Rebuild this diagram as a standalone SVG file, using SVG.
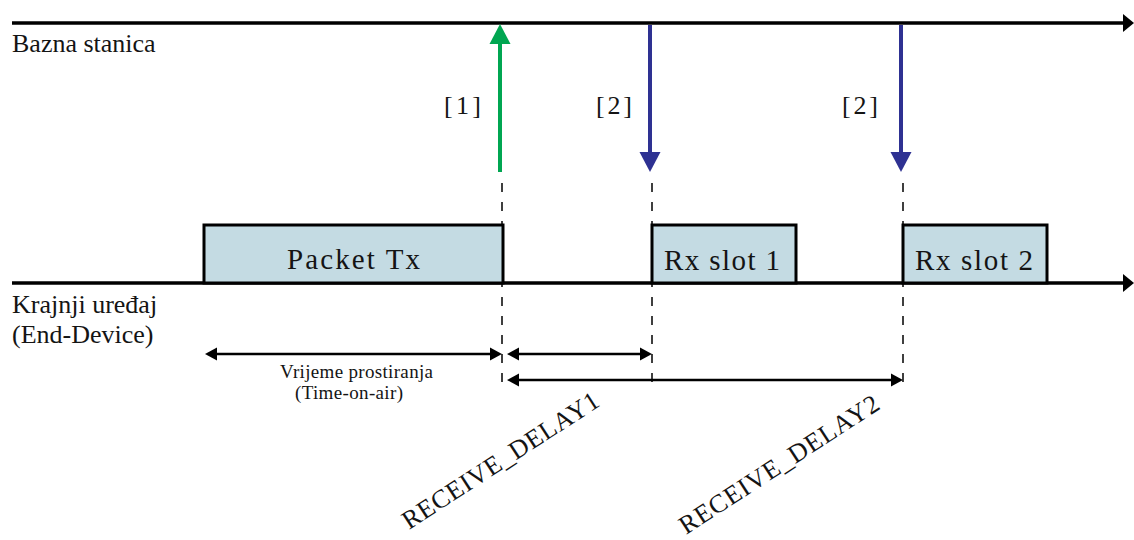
<svg xmlns="http://www.w3.org/2000/svg" width="1134" height="540" viewBox="0 0 1134 540">
<style>
text{font-family:'Liberation Serif','Tinos','Times New Roman','Noto Serif','DejaVu Serif',serif;fill:#141414}
.axis{stroke:#000;stroke-width:3.5;fill:none}
.box{fill:#C4DBE3;stroke:#000;stroke-width:3}
.dash{stroke:#000;stroke-width:1.5;stroke-dasharray:9 10;fill:none}
.meas{stroke:#000;stroke-width:2.5;fill:none}
.lbl{font-size:26px}
.box-t{font-size:29px}
.br{font-size:26px}
.small{font-size:19px}
.rot{font-size:26px}
</style>
<defs>
<marker id="ax" markerUnits="userSpaceOnUse" markerWidth="12" markerHeight="18" refX="0" refY="9" orient="auto"><path d="M0,0 L11,9 L0,18 z" fill="#000"/></marker>
<marker id="hg" markerUnits="userSpaceOnUse" markerWidth="21" markerHeight="22" refX="0" refY="11" orient="auto"><path d="M0,0.5 L20,11 L0,21.5 z" fill="#00A651"/></marker>
<marker id="hb" markerUnits="userSpaceOnUse" markerWidth="21" markerHeight="22" refX="0" refY="11" orient="auto"><path d="M0,0.5 L20,11 L0,21.5 z" fill="#2E3192"/></marker>
<marker id="hm" markerUnits="userSpaceOnUse" markerWidth="13" markerHeight="14" refX="0" refY="7" orient="auto-start-reverse"><path d="M0,0.5 L12,7 L0,13.5 z" fill="#000"/></marker>
</defs>

<g id="connectors">
<line class="axis" x1="12" y1="23" x2="1123" y2="23" marker-end="url(#ax)"/>
<line class="axis" x1="12" y1="283" x2="1123" y2="283" marker-end="url(#ax)"/>
<line class="dash" x1="502" y1="183" x2="502" y2="382"/>
<line class="dash" x1="652" y1="183" x2="652" y2="382"/>
<line class="dash" x1="903" y1="183" x2="903" y2="382"/>
<line x1="500" y1="172" x2="500" y2="44" stroke="#00A651" stroke-width="4" marker-end="url(#hg)"/>
<line x1="650" y1="25" x2="650" y2="152" stroke="#2E3192" stroke-width="4" marker-end="url(#hb)"/>
<line x1="901" y1="25" x2="901" y2="152" stroke="#2E3192" stroke-width="4" marker-end="url(#hb)"/>
<line class="meas" x1="217" y1="354" x2="490" y2="354" marker-start="url(#hm)" marker-end="url(#hm)"/>
<line class="meas" x1="519" y1="354" x2="640" y2="354" marker-start="url(#hm)" marker-end="url(#hm)"/>
<line class="meas" x1="519" y1="380" x2="891" y2="380" marker-start="url(#hm)" marker-end="url(#hm)"/>
</g>

<g id="packet-tx">
<rect class="box" x="204" y="225" width="299" height="58"/>
<text class="box-t" x="287" y="269" textLength="133" lengthAdjust="spacing">Packet Tx</text>
</g>
<g id="rx-slot-1">
<rect class="box" x="652" y="225" width="144" height="58"/>
<text class="box-t" x="664" y="270" textLength="116" lengthAdjust="spacing">Rx slot 1</text>
</g>
<g id="rx-slot-2">
<rect class="box" x="903" y="225" width="144" height="58"/>
<text class="box-t" x="915" y="270" textLength="118" lengthAdjust="spacing">Rx slot 2</text>
</g>

<g id="labels">
<text class="lbl" x="12" y="52">Bazna stanica</text>
<text class="lbl" x="12" y="313">Krajnji uređaj</text>
<text class="lbl" x="12" y="343">(End-Device)</text>
<text class="br" x="444" y="114" textLength="37" lengthAdjust="spacing">[1]</text>
<text class="br" x="596" y="114" textLength="36" lengthAdjust="spacing">[2]</text>
<text class="br" x="842" y="114" textLength="36" lengthAdjust="spacing">[2]</text>
<text class="small" x="280" y="378" textLength="153" lengthAdjust="spacing">Vrijeme prostiranja</text>
<text class="small" x="295" y="399" textLength="108" lengthAdjust="spacing">(Time-on-air)</text>
<text class="rot" transform="translate(409,530) rotate(-33)" textLength="229" lengthAdjust="spacing">RECEIVE_DELAY1</text>
<text class="rot" transform="translate(686,535) rotate(-33)" textLength="233" lengthAdjust="spacing">RECEIVE_DELAY2</text>
</g>
</svg>
